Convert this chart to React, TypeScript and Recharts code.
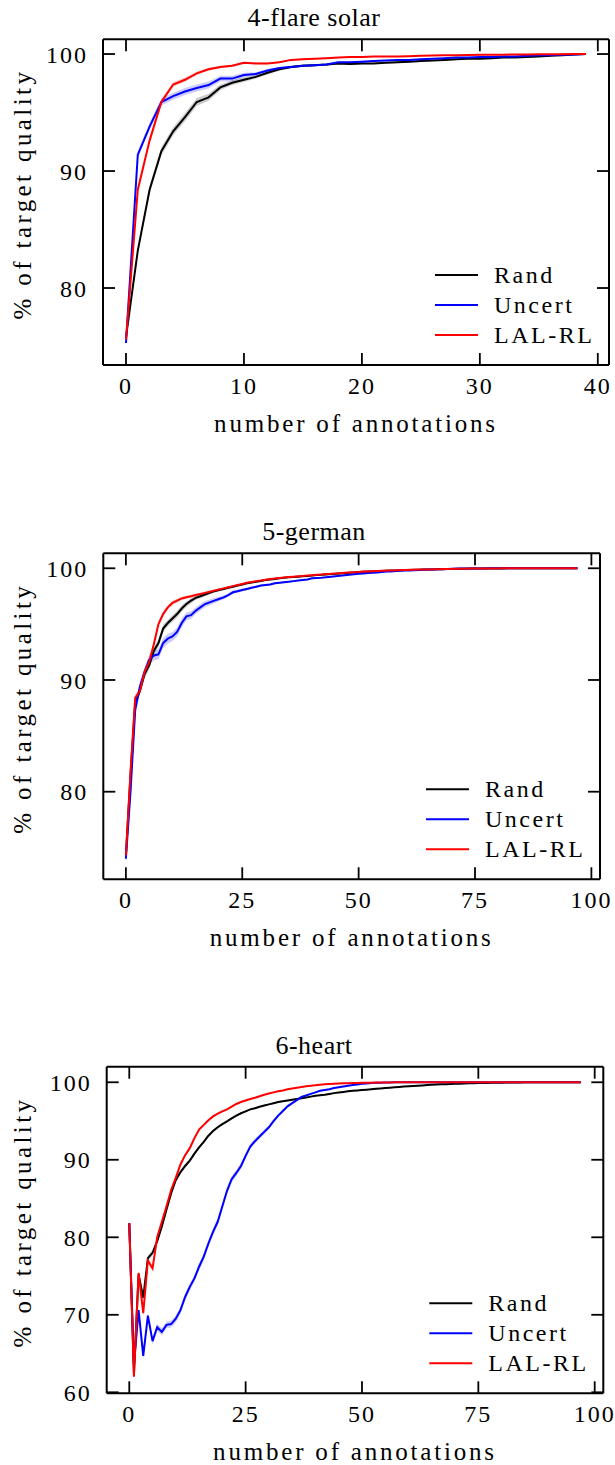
import React from 'react';
import { ComposedChart, Line, Area, XAxis, YAxis } from 'recharts';

const FONT = '"Liberation Serif", "Times New Roman", serif';

const seriesNames = ['Rand', 'Uncert', 'LAL-RL'];
const seriesColors = ['#000000', '#0000ff', '#ff0000'];
const xLabel = 'number of annotations';
const yLabel = '% of target quality';

// ---------- 4-flare solar ----------
const flareXTicks = [0, 10, 20, 30, 40];
const flareYTicks = [80, 90, 100];
const flareRand = [75.8, 83.2, 88.4, 91.7, 93.4, 94.6, 95.9, 96.3, 97.15, 97.55,
  97.8, 98.05, 98.4, 98.7, 98.9, 99.0, 99.05, 99.1, 99.2, 99.15,
  99.2, 99.2, 99.25, 99.3, 99.35, 99.4, 99.45, 99.5, 99.55, 99.6,
  99.6, 99.65, 99.7, 99.7, 99.75, 99.8, 99.85, 99.9, 99.95, 100];
const flareUncert = [75.3, 91.4, 93.8, 95.9, 96.4, 96.8, 97.1, 97.35, 97.9, 97.9,
  98.2, 98.3, 98.6, 98.8, 98.9, 99.0, 99.05, 99.1, 99.3, 99.3,
  99.35, 99.4, 99.45, 99.5, 99.5, 99.55, 99.6, 99.65, 99.7, 99.7,
  99.75, 99.75, 99.8, 99.8, 99.85, 99.9, 99.9, 99.95, 99.97, 100];
const flareLal = [75.6, 88.4, 92.6, 95.9, 97.4, 97.8, 98.35, 98.7, 98.9, 99.0,
  99.26, 99.2, 99.2, 99.3, 99.5, 99.55, 99.6, 99.65, 99.7, 99.75,
  99.75, 99.78, 99.8, 99.8, 99.82, 99.85, 99.87, 99.9, 99.9, 99.92,
  99.93, 99.94, 99.95, 99.96, 99.97, 99.98, 99.98, 99.99, 100, 100];
const flareRandSd = [0.2, 0.3, 0.35, 0.35, 0.35, 0.35, 0.35, 0.3, 0.25, 0.2,
  0.2, 0.15, 0.15, 0.12, 0.1, 0.1, 0.1, 0.1, 0.1, 0.1,
  0.08, 0.08, 0.08, 0.08, 0.07, 0.07, 0.06, 0.06, 0.05, 0.05,
  0.05, 0.04, 0.04, 0.04, 0.03, 0.03, 0.02, 0.02, 0.01, 0];
const flareUncertSd = [0.2, 0.3, 0.3, 0.3, 0.3, 0.3, 0.3, 0.3, 0.25, 0.25,
  0.2, 0.15, 0.12, 0.1, 0.1, 0.1, 0.08, 0.08, 0.08, 0.07,
  0.07, 0.06, 0.06, 0.05, 0.05, 0.05, 0.04, 0.04, 0.04, 0.03,
  0.03, 0.03, 0.02, 0.02, 0.02, 0.02, 0.01, 0.01, 0.01, 0];
const flareLalSd = [0.2, 0.25, 0.25, 0.25, 0.2, 0.2, 0.15, 0.12, 0.1, 0.1,
  0.08, 0.08, 0.08, 0.07, 0.06, 0.06, 0.05, 0.05, 0.05, 0.05,
  0.04, 0.04, 0.04, 0.04, 0.03, 0.03, 0.03, 0.03, 0.02, 0.02,
  0.02, 0.02, 0.02, 0.01, 0.01, 0.01, 0.01, 0.01, 0, 0];

// ---------- 5-german ----------
const germanXTicks = [0, 25, 50, 75, 100];
const germanYTicks = [80, 90, 100];
const germanRand = [74.3, 81.5, 88.0, 89.0, 90.5, 91.3, 92.6, 93.3, 94.6, 95.1,
  95.5, 95.9, 96.4, 96.8, 97.1, 97.35, 97.5, 97.65, 97.8, 97.95,
  98.05, 98.15, 98.25, 98.35, 98.45, 98.55, 98.65, 98.72, 98.8, 98.87,
  98.95, 99.0, 99.05, 99.1, 99.15, 99.2, 99.22, 99.25, 99.28, 99.3,
  99.35, 99.4, 99.42, 99.45, 99.48, 99.5, 99.53, 99.56, 99.6, 99.63,
  99.66, 99.68, 99.7, 99.72, 99.74, 99.76, 99.78, 99.8, 99.81, 99.82,
  99.84, 99.85, 99.86, 99.87, 99.88, 99.89, 99.9, 99.91, 99.92, 99.93,
  99.94, 99.95, 99.95, 99.96, 99.97, 99.97, 99.98, 99.98, 99.98, 99.99,
  99.99, 99.99, 100, 100, 100, 100, 100, 100, 100, 100,
  100, 100, 100, 100, 100, 100, 100, 100];
const germanUncert = [74.0, 80.0, 87.3, 89.4, 90.7, 91.8, 92.2, 92.3, 93.3, 93.7,
  93.9, 94.3, 95.1, 95.7, 95.8, 96.2, 96.5, 96.8, 96.95, 97.1,
  97.25, 97.4, 97.6, 97.85, 97.95, 98.05, 98.15, 98.25, 98.35, 98.45,
  98.5, 98.55, 98.65, 98.7, 98.75, 98.8, 98.85, 98.9, 98.95, 99.0,
  99.1, 99.13, 99.16, 99.2, 99.24, 99.28, 99.32, 99.38, 99.42, 99.46,
  99.5, 99.54, 99.57, 99.6, 99.63, 99.66, 99.7, 99.72, 99.75, 99.77,
  99.79, 99.8, 99.82, 99.84, 99.86, 99.88, 99.9, 99.91, 99.92, 99.94,
  99.95, 99.96, 99.97, 99.97, 99.98, 99.98, 99.99, 99.99, 100, 100,
  100, 100, 100, 100, 100, 100, 100, 100, 100, 100,
  100, 100, 100, 100, 100, 100, 100, 100];
const germanLal = [74.3, 81.8, 88.4, 89.0, 90.7, 91.6, 93.2, 95.0, 95.9, 96.5,
  96.9, 97.1, 97.3, 97.4, 97.5, 97.6, 97.7, 97.8, 97.9, 98.0,
  98.1, 98.2, 98.3, 98.4, 98.5, 98.6, 98.7, 98.78, 98.85, 98.9,
  98.97, 99.03, 99.08, 99.13, 99.18, 99.22, 99.25, 99.28, 99.31, 99.35,
  99.38, 99.42, 99.45, 99.48, 99.5, 99.53, 99.56, 99.59, 99.62, 99.65,
  99.67, 99.7, 99.72, 99.74, 99.76, 99.78, 99.8, 99.81, 99.82, 99.84,
  99.85, 99.86, 99.87, 99.88, 99.89, 99.9, 99.91, 99.92, 99.93, 99.93,
  99.94, 99.95, 99.95, 99.96, 99.97, 99.97, 99.98, 99.98, 99.99, 99.99,
  99.99, 100, 100, 100, 100, 100, 100, 100, 100, 100,
  100, 100, 100, 100, 100, 100, 100, 100];
const germanRandSd = [0.6, 0.5, 0.4, 0.35, 0.35, 0.35, 0.35, 0.35, 0.35, 0.3,
  0.3, 0.3, 0.28, 0.25, 0.22, 0.2, 0.18, 0.16, 0.15, 0.14,
  0.13, 0.12, 0.11, 0.1, 0.1, 0.09, 0.09, 0.08, 0.08, 0.07,
  0.07, 0.07, 0.06, 0.06, 0.06, 0.05, 0.05, 0.05, 0.05, 0.05,
  0.04, 0.04, 0.04, 0.04, 0.04, 0.04, 0.03, 0.03, 0.03, 0.03,
  0.03, 0.03, 0.03, 0.02, 0.02, 0.02, 0.02, 0.02, 0.02, 0.02,
  0.02, 0.02, 0.02, 0.02, 0.01, 0.01, 0.01, 0.01, 0.01, 0.01,
  0.01, 0.01, 0.01, 0.01, 0.01, 0.01, 0.01, 0.01, 0.01, 0.01,
  0, 0, 0, 0, 0, 0, 0, 0, 0, 0,
  0, 0, 0, 0, 0, 0, 0, 0];
const germanUncertSd = [0.6, 0.5, 0.5, 0.45, 0.45, 0.45, 0.45, 0.45, 0.45, 0.45,
  0.4, 0.4, 0.4, 0.35, 0.35, 0.3, 0.3, 0.28, 0.25, 0.22,
  0.2, 0.18, 0.16, 0.15, 0.14, 0.13, 0.12, 0.11, 0.1, 0.1,
  0.09, 0.09, 0.08, 0.08, 0.07, 0.07, 0.07, 0.06, 0.06, 0.06,
  0.05, 0.05, 0.05, 0.05, 0.04, 0.04, 0.04, 0.04, 0.04, 0.03,
  0.03, 0.03, 0.03, 0.03, 0.03, 0.02, 0.02, 0.02, 0.02, 0.02,
  0.02, 0.02, 0.02, 0.02, 0.01, 0.01, 0.01, 0.01, 0.01, 0.01,
  0.01, 0.01, 0.01, 0.01, 0.01, 0.01, 0.01, 0.01, 0, 0,
  0, 0, 0, 0, 0, 0, 0, 0, 0, 0,
  0, 0, 0, 0, 0, 0, 0, 0];
const germanLalSd = [0.6, 0.4, 0.3, 0.3, 0.3, 0.3, 0.3, 0.25, 0.25, 0.2,
  0.2, 0.18, 0.16, 0.15, 0.14, 0.13, 0.12, 0.11, 0.1, 0.1,
  0.09, 0.09, 0.08, 0.08, 0.07, 0.07, 0.07, 0.06, 0.06, 0.06,
  0.05, 0.05, 0.05, 0.05, 0.05, 0.04, 0.04, 0.04, 0.04, 0.04,
  0.03, 0.03, 0.03, 0.03, 0.03, 0.03, 0.03, 0.02, 0.02, 0.02,
  0.02, 0.02, 0.02, 0.02, 0.02, 0.02, 0.02, 0.02, 0.01, 0.01,
  0.01, 0.01, 0.01, 0.01, 0.01, 0.01, 0.01, 0.01, 0.01, 0.01,
  0.01, 0.01, 0.01, 0.01, 0.01, 0.01, 0.01, 0.01, 0, 0,
  0, 0, 0, 0, 0, 0, 0, 0, 0, 0,
  0, 0, 0, 0, 0, 0, 0, 0];

// ---------- 6-heart ----------
const heartXTicks = [0, 25, 50, 75, 100];
const heartYTicks = [60, 70, 80, 90, 100];
const heartRand = [81.8, 62.5, 75.2, 72.2, 77.3, 78.0, 79.5, 81.4, 83.6, 85.7,
  87.4, 88.4, 89.2, 89.9, 90.8, 91.6, 92.3, 93.1, 93.7, 94.2,
  94.6, 94.95, 95.35, 95.7, 96.0, 96.25, 96.5, 96.65, 96.85, 97.0,
  97.15, 97.3, 97.45, 97.55, 97.65, 97.75, 97.85, 97.95, 98.05, 98.15,
  98.25, 98.32, 98.4, 98.5, 98.6, 98.68, 98.76, 98.83, 98.9, 98.95,
  99.0, 99.05, 99.1, 99.15, 99.2, 99.25, 99.3, 99.35, 99.4, 99.44,
  99.48, 99.52, 99.56, 99.6, 99.64, 99.67, 99.7, 99.73, 99.76, 99.78,
  99.8, 99.82, 99.84, 99.86, 99.88, 99.9, 99.91, 99.92, 99.93, 99.94,
  99.95, 99.96, 99.97, 99.98, 99.98, 99.99, 100, 100, 100, 100,
  100, 100, 100, 100, 100, 100, 100, 100];
const heartUncert = [81.8, 63.5, 70.6, 64.7, 69.9, 66.6, 68.4, 67.8, 68.7, 68.8,
  69.5, 70.6, 72.3, 73.6, 74.7, 76.2, 77.5, 79.2, 80.7, 82.0,
  84.0, 86.0, 87.5, 88.3, 89.2, 90.5, 91.7, 92.4, 93.0, 93.6,
  94.2, 95.0, 95.7, 96.3, 96.9, 97.3, 97.7, 98.1, 98.3, 98.5,
  98.7, 98.9, 99.0, 99.1, 99.25, 99.35, 99.45, 99.55, 99.65, 99.72,
  99.8, 99.85, 99.9, 99.93, 99.95, 99.97, 99.98, 99.99, 100, 100,
  100, 100, 100, 100, 100, 100, 100, 100, 100, 100,
  100, 100, 100, 100, 100, 100, 100, 100, 100, 100,
  100, 100, 100, 100, 100, 100, 100, 100, 100, 100,
  100, 100, 100, 100, 100, 100, 100, 100];
const heartLal = [81.8, 62.0, 75.4, 70.2, 77.0, 76.0, 80.0, 82.0, 84.0, 86.1,
  87.7, 89.4, 90.6, 91.5, 92.8, 93.9, 94.5, 95.1, 95.6, 95.95,
  96.25, 96.5, 96.85, 97.2, 97.45, 97.65, 97.85, 98.0, 98.2, 98.4,
  98.55, 98.7, 98.85, 98.95, 99.1, 99.2, 99.3, 99.4, 99.5, 99.55,
  99.62, 99.68, 99.73, 99.78, 99.82, 99.85, 99.87, 99.89, 99.9, 99.92,
  99.93, 99.94, 99.95, 99.96, 99.97, 99.98, 99.98, 99.99, 100, 100,
  100, 100, 100, 100, 100, 100, 100, 100, 100, 100,
  100, 100, 100, 100, 100, 100, 100, 100, 100, 100,
  100, 100, 100, 100, 100, 100, 100, 100, 100, 100,
  100, 100, 100, 100, 100, 100, 100, 100];
const heartRandSd = [0.3, 0.4, 0.4, 0.4, 0.35, 0.35, 0.3, 0.3, 0.3, 0.3,
  0.3, 0.28, 0.26, 0.25, 0.24, 0.22, 0.2, 0.2, 0.18, 0.17,
  0.16, 0.15, 0.14, 0.13, 0.12, 0.12, 0.11, 0.1, 0.1, 0.1,
  0.09, 0.09, 0.09, 0.09, 0.09, 0.08, 0.08, 0.08, 0.08, 0.08,
  0.07, 0.07, 0.07, 0.07, 0.07, 0.06, 0.06, 0.06, 0.06, 0.06,
  0.05, 0.05, 0.05, 0.05, 0.05, 0.04, 0.04, 0.04, 0.04, 0.04,
  0.03, 0.03, 0.03, 0.03, 0.03, 0.03, 0.03, 0.02, 0.02, 0.02,
  0.02, 0.02, 0.02, 0.02, 0.02, 0.01, 0.01, 0.01, 0.01, 0.01,
  0.01, 0.01, 0.01, 0.01, 0.01, 0, 0, 0, 0, 0,
  0, 0, 0, 0, 0, 0, 0, 0];
const heartUncertSd = [0.3, 0.5, 0.5, 0.5, 0.45, 0.45, 0.45, 0.45, 0.45, 0.45,
  0.45, 0.45, 0.45, 0.45, 0.45, 0.45, 0.45, 0.45, 0.45, 0.45,
  0.45, 0.45, 0.45, 0.4, 0.4, 0.35, 0.35, 0.3, 0.3, 0.3,
  0.25, 0.25, 0.22, 0.2, 0.18, 0.16, 0.14, 0.12, 0.1, 0.1,
  0.09, 0.08, 0.07, 0.06, 0.05, 0.05, 0.04, 0.04, 0.03, 0.03,
  0.03, 0.02, 0.02, 0.02, 0.01, 0.01, 0.01, 0.01, 0, 0,
  0, 0, 0, 0, 0, 0, 0, 0, 0, 0,
  0, 0, 0, 0, 0, 0, 0, 0, 0, 0,
  0, 0, 0, 0, 0, 0, 0, 0, 0, 0,
  0, 0, 0, 0, 0, 0, 0, 0];
const heartLalSd = [0.3, 0.4, 0.4, 0.4, 0.35, 0.35, 0.3, 0.3, 0.3, 0.3,
  0.28, 0.26, 0.24, 0.22, 0.2, 0.18, 0.16, 0.15, 0.14, 0.13,
  0.12, 0.11, 0.1, 0.1, 0.09, 0.09, 0.08, 0.08, 0.07, 0.07,
  0.06, 0.06, 0.05, 0.05, 0.05, 0.04, 0.04, 0.04, 0.03, 0.03,
  0.03, 0.03, 0.02, 0.02, 0.02, 0.02, 0.02, 0.01, 0.01, 0.01,
  0.01, 0.01, 0.01, 0.01, 0.01, 0.01, 0.01, 0, 0, 0,
  0, 0, 0, 0, 0, 0, 0, 0, 0, 0,
  0, 0, 0, 0, 0, 0, 0, 0, 0, 0,
  0, 0, 0, 0, 0, 0, 0, 0, 0, 0,
  0, 0, 0, 0, 0, 0, 0, 0];

type Row = Record<string, any>;

function buildRows(means: number[][], sds: number[][]): Row[] {
  return means[0].map((_, i) => {
    const row: Row = { x: i };
    means.forEach((m, k) => {
      const v = m[i];
      const s = sds[k][i] ?? 0;
      row['s' + k] = v;
      row['b' + k] = [v - s, v + s];
    });
    return row;
  });
}

const panels = [
  {
    title: '4-flare solar',
    panelTop: 0, height: 470,
    plot: { left: 103, right: 609, top: 39.3, bottom: 365 },
    xDomain: [-1.95, 40.95], yDomain: [73.42, 101.26],
    xTicks: flareXTicks, yTicks: flareYTicks,
    rows: buildRows([flareRand, flareUncert, flareLal], [flareRandSd, flareUncertSd, flareLalSd]),
  },
  {
    title: '5-german',
    panelTop: 500, height: 470,
    plot: { left: 103.3, right: 600, top: 553.3, bottom: 879.3 },
    xDomain: [-4.85, 101.85], yDomain: [72.16, 101.34],
    xTicks: germanXTicks, yTicks: germanYTicks,
    rows: buildRows([germanRand, germanUncert, germanLal], [germanRandSd, germanUncertSd, germanLalSd]),
  },
  {
    title: '6-heart',
    panelTop: 1010, height: 455,
    plot: { left: 106.7, right: 603.3, top: 1066.7, bottom: 1393.3 },
    xDomain: [-4.85, 101.85], yDomain: [59.87, 102.01],
    xTicks: heartXTicks, yTicks: heartYTicks,
    rows: buildRows([heartRand, heartUncert, heartLal], [heartRandSd, heartUncertSd, heartLalSd]),
  },
];

const FS = 24;
const LFS = 25;
const TFS = 26;
const TICK = 12;

function Panel({ cfg }: { cfg: any }) {
  const { title, panelTop, height, plot, xDomain, yDomain, xTicks, yTicks, rows } = cfg;
  const margin = { top: plot.top - panelTop - 1, right: 615 - plot.right - 1, left: 0, bottom: 0 };
  const xAxisH = height - (plot.bottom - panelTop);
  const axisLine = { stroke: '#000', strokeWidth: 2 };
  const cx = (plot.left + plot.right) / 2;
  const cy = (plot.top + plot.bottom) / 2 - panelTop - 8;
  const pt = plot.top - panelTop;
  const pb = plot.bottom - panelTop;

  // bottom-axis tick: inward marks on bottom & top spines + label
  const XTick = (props: any) => {
    const { x, y, payload } = props;
    const c = payload.coordinate;
    return (
      <g>
        <line x1={c} x2={c} y1={pb} y2={pb - TICK} stroke="#000" strokeWidth={1.8} />
        <line x1={c} x2={c} y1={pt} y2={pt + TICK} stroke="#000" strokeWidth={1.8} />
        <text x={x} y={y} dy="0.71em" textAnchor="middle" fontSize={FS} fontFamily={FONT} letterSpacing={2} fill="#000">
          {payload.value}
        </text>
      </g>
    );
  };
  // left-axis tick: inward marks on left & right spines + label
  const YTick = (props: any) => {
    const { x, y, payload } = props;
    const c = payload.coordinate;
    return (
      <g>
        <line x1={plot.left} x2={plot.left + TICK} y1={c} y2={c} stroke="#000" strokeWidth={1.8} />
        <line x1={plot.right} x2={plot.right - TICK} y1={c} y2={c} stroke="#000" strokeWidth={1.8} />
        <text x={x} y={y} dy="0.355em" textAnchor="end" fontSize={FS} fontFamily={FONT} letterSpacing={2} fill="#000">
          {payload.value}
        </text>
      </g>
    );
  };

  return (
    <div style={{ position: 'absolute', left: 0, top: panelTop, width: 615, height }}>
      <ComposedChart width={615} height={height} data={rows} margin={margin}>
        <XAxis xAxisId="b" dataKey="x" type="number" domain={xDomain} ticks={xTicks} allowDataOverflow
          interval={0} height={xAxisH} tickSize={0} tickMargin={12}
          axisLine={axisLine} tickLine={false} tick={XTick} />
        <XAxis xAxisId="t" orientation="top" dataKey="x" type="number" domain={xDomain} ticks={xTicks}
          allowDataOverflow interval={0} height={1} axisLine={axisLine} tickLine={false} tick={false} />
        <YAxis yAxisId="l" type="number" domain={yDomain} ticks={yTicks} allowDataOverflow interval={0}
          width={plot.left} tickSize={0} tickMargin={15}
          axisLine={axisLine} tickLine={false} tick={YTick} />
        <YAxis yAxisId="r" orientation="right" type="number" domain={yDomain} ticks={yTicks} allowDataOverflow
          interval={0} width={1} axisLine={axisLine} tickLine={false} tick={false} />
        {seriesColors.map((c, k) => (
          <Area key={'b' + k} xAxisId="b" yAxisId="l" type="linear" dataKey={'b' + k}
            stroke="none" fill={c} fillOpacity={0.2} isAnimationActive={false} activeDot={false} />
        ))}
        {seriesColors.map((c, k) => (
          <Line key={'s' + k} xAxisId="b" yAxisId="l" type="linear" dataKey={'s' + k}
            stroke={c} strokeWidth={2} dot={false} activeDot={false} isAnimationActive={false} />
        ))}
      </ComposedChart>
      <svg width={615} height={height} style={{ position: 'absolute', left: 0, top: 0, pointerEvents: 'none' }}
        fontFamily={FONT} fill="#000">
        <text x={314} y={pt - 13} textAnchor="middle" fontSize={TFS} letterSpacing={0.5}>{title}</text>
        <text x={cx} y={pb + 67} textAnchor="middle" fontSize={LFS} letterSpacing={2.8}>{xLabel}</text>
        <text x={31} y={cy} textAnchor="middle" fontSize={LFS} letterSpacing={3.4}
          transform={`rotate(-90, 31, ${cy})`}>{yLabel}</text>
        {seriesNames.map((n, k) => {
          const ry = pb - 90 + 30 * k;
          return (
            <g key={n}>
              <line x1={plot.right - 174} x2={plot.right - 131} y1={ry} y2={ry} stroke={seriesColors[k]} strokeWidth={2} />
              <text x={plot.right - 115} y={ry + 8} fontSize={FS} letterSpacing={2.5}>{n}</text>
            </g>
          );
        })}
      </svg>
    </div>
  );
}

export default function App() {
  return (
    <div style={{ position: 'absolute', left: 0, top: 0, width: 615, height: 1465, background: '#fff' }}>
      {panels.map((p) => <Panel key={p.title} cfg={p} />)}
    </div>
  );
}
